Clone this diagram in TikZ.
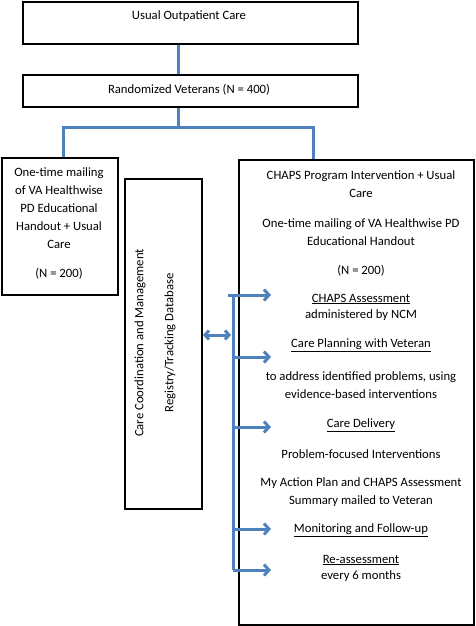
\documentclass[tikz,border=0pt]{standalone}
\usepackage{fontspec}
\setmainfont{Carlito}
\usetikzlibrary{arrows.meta}
\definecolor{chapsblue}{RGB}{79,129,189}
\tikzset{
  box/.style={draw, line width=2pt, inner sep=0pt},
  txt/.style={align=center, inner sep=0pt},
  link/.style={draw=chapsblue, line width=3pt},
  push/.style={link, -{Straight Barb[length=5pt, width=11pt]}},
  both/.style={link, {Straight Barb[length=4pt, width=9pt]}-{Straight Barb[length=4pt, width=9pt]}},
}
\begin{document}
\begin{tikzpicture}[x=1pt, y=-1pt, font=\fontsize{12.7}{18}\selectfont]%
        \useasboundingbox (0,0) rectangle (475,626);
        % boxes
        \node[box, anchor=north west, minimum width=335pt, minimum height=42pt] (usual) at (22,1) {};
        \node[box, anchor=north west, minimum width=335pt, minimum height=32pt] (random) at (22,74) {};
        \node[box, anchor=north west, minimum width=116pt, minimum height=137pt] (control) at (1,157) {};
        \node[box, anchor=north west, minimum width=235pt, minimum height=465pt] (chaps) at (238,159) {};
        \node[box, anchor=north west, minimum width=77pt, minimum height=330pt] (registry) at (124,178) {};
        % texts
        \node[txt] (usualText) at (189,16) {Usual Outpatient Care};
        \node[txt] (randomText) at (189,90) {Randomized Veterans (N = 400)};
        \node[txt] (controlText) at (59,208) {One-time mailing\\of VA Healthwise\\PD Educational\\Handout + Usual\\Care};
        \node[txt] (controlN) at (59,274) {(N = 200)};
        \node[txt, rotate=90] (coordText) at (140,343) {Care Coordination and Management};
        \node[txt, rotate=90] (trackText) at (170,343) {Registry/Tracking Database};
        \node[txt] (chapsHead) at (361,184) {CHAPS Program Intervention + Usual\\Care};
        \node[txt] (mailing) at (361,232) {One-time mailing of VA Healthwise PD\\Educational Handout};
        \node[txt] (chapsN) at (361,271) {(N = 200)};
        \node[txt] (assess) at (361,307) {\underline{CHAPS Assessment}\\[-2pt]administered by NCM};
        \node[txt] (planning) at (361,345) {\underline{Care Planning with Veteran}};
        \node[txt] (address) at (361,385) {to address identified problems, using\\evidence-based interventions};
        \node[txt] (delivery) at (361,425) {\underline{Care Delivery}};
        \node[txt] (focused) at (361,454) {Problem-focused Interventions};
        \node[txt] (actionPlan) at (361,492) {My Action Plan and CHAPS Assessment\\Summary mailed to Veteran};
        \node[txt] (monitor) at (361,530) {\underline{Monitoring and Follow-up}};
        \node[txt] (reassess) at (361,568) {\underline{Re-assessment}\\[-2pt]every 6 months};
        % connectors
        \coordinate (fork) at (178,127);
        \coordinate (forkL) at (63,127);
        \coordinate (forkR) at (313,127);
        \draw[link] (usual.south -| fork) -- (random.north -| fork);
        \draw[link] (random.south -| fork) -- (fork);
        \draw[link] (control.north -| forkL) -- (forkL) -- (forkR) -- (chaps.north -| forkR);
        % tracking bus
        \coordinate (busTop) at (233,295);
        \coordinate (busBot) at (233,570);
        \coordinate (hub) at (231,335);
        \draw[link] (busTop) -- (busBot);
        \foreach \y/\n in {295/1,357/2,427/3,529/4,570/5}
            \coordinate (tip\n) at (271,\y);
        \draw[push] ([xshift=-5pt]busTop |- tip1) -- (tip1);
        \foreach \n in {2,...,5}
            \draw[push] (busTop |- tip\n) -- (tip\n);
        \draw[both] (registry.east |- hub) -- (hub);
    \end{tikzpicture}
\end{document}
